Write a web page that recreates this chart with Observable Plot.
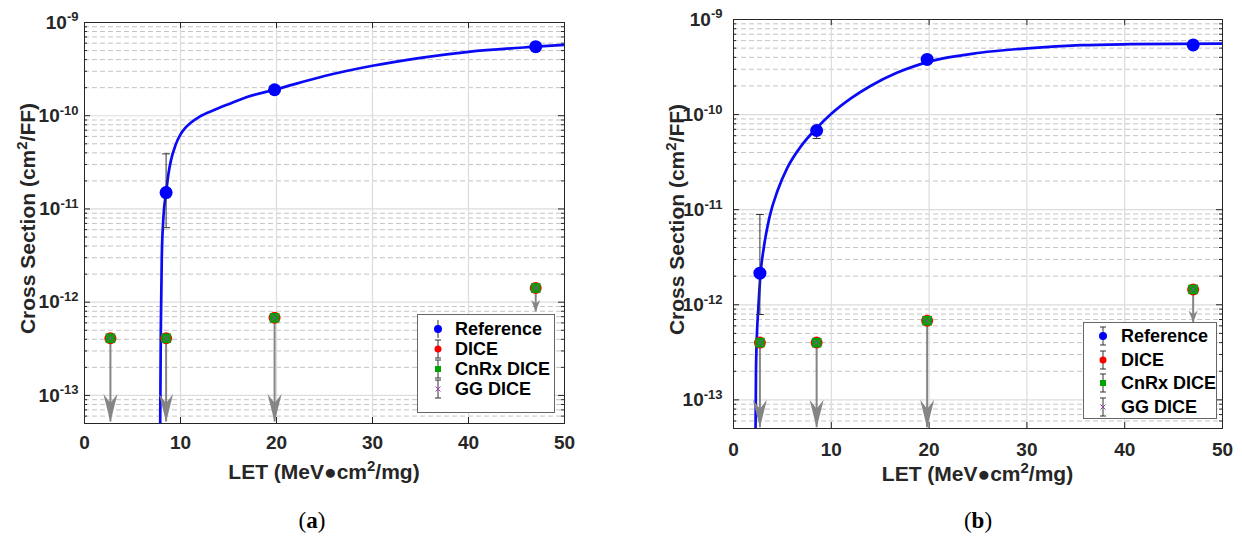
<!DOCTYPE html>
<html><head><meta charset="utf-8">
<script src="https://cdn.jsdelivr.net/npm/d3@7"></script>
<script src="https://cdn.jsdelivr.net/npm/@observablehq/plot@0.6"></script>
<style>
body{margin:0;background:#fff;width:1242px;height:543px;overflow:hidden;position:relative;font-family:"Liberation Sans",Arial,sans-serif;}
.panel{position:absolute;top:0;}
.legend{position:absolute;background:#fff;border:1px solid #666;box-sizing:border-box;}
.legend .row{position:absolute;left:0;right:0;height:22px;font-weight:bold;font-size:18px;color:#000;line-height:22px;}
.legend .row svg{position:absolute;top:0;}
.legend .row span{position:absolute;}
.sub{position:absolute;font-family:"Liberation Serif","DejaVu Serif",serif;font-size:23px;color:#000;transform:translateX(-50%);}
</style></head><body>
<div id="pa" class="panel" style="left:0"></div>
<div id="pb" class="panel" style="left:621px"></div>
<div class="sub" style="left:312px;top:508px">(<b>a</b>)</div>
<div class="sub" style="left:978px;top:508px">(<b>b</b>)</div>
<script>
// ---------- shared axes ----------
const xDomain = [0, 50];
const yDomain = [5e-14, 1e-9];
const xTickValues = [0, 10, 20, 30, 40, 50];
const xGridValues = [10, 20, 30, 40];
const yMajorTicks = [1e-13, 1e-12, 1e-11, 1e-10, 1e-9];
const yMinorMultipliers = [2, 3, 4, 5, 6, 7, 8, 9];
const yDecades = [1e-14, 1e-13, 1e-12, 1e-11, 1e-10];
const letPoints = [2.7, 8.5, 19.8, 47];
const xLabelText = ["LET (MeV\u25CFcm", "2", "/mg)"];
const yLabelText = ["Cross Section (cm", "2", "/FF)"];
const legendNames = ["Reference", "DICE", "CnRx DICE", "GG DICE"];

// ---------- panel (a) ----------
const aFitLet = [7.88, 7.95, 8.05, 8.2, 8.5, 8.75, 9.0, 9.5, 10, 10.5, 11, 12, 13.5, 15, 17, 19.8, 25, 30, 35, 40, 47, 50];
const aFitXs  = [4e-14, 5e-13, 3e-12, 7.5e-12, 1.5e-11, 2.4e-11, 3.3e-11, 4.9e-11, 6.3e-11, 7.4e-11, 8.3e-11, 9.8e-11, 1.15e-10, 1.33e-10, 1.6e-10, 1.9e-10, 2.67e-10, 3.44e-10, 4.18e-10, 4.85e-10, 5.5e-10, 5.75e-10];
const aRefLet = [8.5, 19.8, 47];
const aRefXs  = [1.5e-11, 1.9e-10, 5.5e-10];
const aErrLet = [8.5];
const aErrLo  = [6.3e-12];
const aErrHi  = [3.9e-11];
const aDice   = [4.1e-13, 4.1e-13, 6.8e-13, 1.42e-12];
const aCnrx   = [4.1e-13, 4.1e-13, 6.8e-13, 1.42e-12];
const aGg     = [4.1e-13, 4.1e-13, 6.8e-13, 1.42e-12];
const aArrowEnd = [5.2e-14, 5.2e-14, 5.2e-14, 7.9e-13];

// ---------- panel (b) ----------
const bFitLet = [2.25, 2.3, 2.4, 2.53, 2.76, 3.1, 3.7, 4.5, 5.5, 7, 8.5, 10, 12, 14, 16.7, 20.1, 25.2, 30.4, 35.5, 40.6, 50];
const bFitXs  = [4e-14, 2e-13, 5e-13, 8.9e-13, 2.1e-12, 4e-12, 8.5e-12, 1.58e-11, 2.75e-11, 4.8e-11, 7.2e-11, 1.02e-10, 1.48e-10, 2.0e-10, 2.75e-10, 3.63e-10, 4.47e-10, 5.01e-10, 5.37e-10, 5.5e-10, 5.58e-10];
const bRefLet = [2.7, 8.5, 19.8, 47];
const bRefXs  = [2.15e-12, 6.8e-11, 3.8e-10, 5.4e-10];
const bErrLet = [2.7, 8.5];
const bErrLo  = [7.9e-13, 5.6e-11];
const bErrHi  = [8.9e-12, 7.5e-11];
const bDice   = [4.0e-13, 4.0e-13, 6.8e-13, 1.45e-12];
const bCnrx   = [4.0e-13, 4.0e-13, 6.8e-13, 1.45e-12];
const bGg     = [4.0e-13, 4.0e-13, 6.8e-13, 1.45e-12];
const bArrowEnd = [5.1e-14, 5.1e-14, 5.1e-14, 6.5e-13];

// ---------- colours ----------
const C = {ref: "#0000ff", fit: "#0a0af5", dice: "#ff0000", cnrx: "#00a400", gg: "#a040b0", arrow: "#858585", err: "#333333", axis: "#262626"};

const capSymbol = {draw(ctx) { ctx.moveTo(-4, 0); ctx.lineTo(4, 0); }};
const bigHead = {draw(ctx) { ctx.moveTo(0, 0); ctx.lineTo(-7, -28); ctx.lineTo(0, -19); ctx.lineTo(7, -28); ctx.closePath(); }};
const smallHead = {draw(ctx) { ctx.moveTo(0, 0); ctx.lineTo(-4.5, -12); ctx.lineTo(0, -8); ctx.lineTo(4.5, -12); ctx.closePath(); }};

const yMinor = yDecades.flatMap(d => yMinorMultipliers.map(m => d * m)).filter(v => v >= yDomain[0] && v <= yDomain[1]);
const FONT = "'Liberation Sans', Arial, sans-serif";

function panel(cfg) {
  const {width, height, ml, mr, mt, mb, ypad, xpad} = cfg;
  const fw = width - ml - mr, fh = height - mt - mb;
  const fit = cfg.fitLet.map((x, i) => ({x, y: cfg.fitXs[i]}));
  const ref = cfg.refLet.map((x, i) => ({x, y: cfg.refXs[i]}));
  const err = cfg.errLet.map((x, i) => ({x, lo: cfg.errLo[i], hi: cfg.errHi[i]}));
  const pts = (arr) => letPoints.map((x, i) => ({x, y: arr[i]}));
  const arrows = letPoints.map((x, i) => ({x, from: cfg.dice[i], to: cfg.arrowEnd[i]}));
  const svg = Plot.plot({
    width, height, marginLeft: ml, marginRight: mr, marginTop: mt, marginBottom: mb,
    x: {domain: xDomain},
    y: {type: "log", domain: yDomain},
    style: {fontFamily: FONT, fontSize: "19px", fontWeight: "bold", color: C.axis, background: "transparent", overflow: "visible"},
    marks: [
      Plot.ruleY(yMinor, {stroke: "#c4c4c4", strokeDasharray: "5,3", strokeWidth: 1}),
      Plot.ruleY(yMajorTicks, {stroke: "#dcdcdc", strokeWidth: 1.2}),
      Plot.ruleX(xGridValues, {stroke: "#dcdcdc", strokeWidth: 1.2}),
      Plot.tickY(yMajorTicks, {stroke: C.axis, insetRight: fw - 6}),
      Plot.tickY(yMajorTicks, {stroke: C.axis, insetLeft: fw - 6}),
      Plot.tickY(yMinor, {stroke: C.axis, insetRight: fw - 3}),
      Plot.tickY(yMinor, {stroke: C.axis, insetLeft: fw - 3}),
      Plot.tickX(xGridValues, {stroke: C.axis, insetTop: fh - 6}),
      Plot.tickX(xGridValues, {stroke: C.axis, insetBottom: fh - 6}),
      Plot.axisY(yMajorTicks, {tickSize: 0, tickPadding: ypad, fontSize: 19, fontWeight: "bold", tickFormat: d => String(Math.round(Math.log10(d))), label: null}),
      Plot.axisX(xTickValues, {tickSize: 0, tickPadding: xpad, fontSize: 19, fontWeight: "bold", label: null}),
      Plot.line(fit, {x: "x", y: "y", stroke: C.fit, strokeWidth: 2.7, curve: "monotone-x", clip: true}),
      Plot.ruleX(err, {x: "x", y1: "lo", y2: "hi", stroke: C.err, strokeWidth: 1}),
      Plot.dot(err, {x: "x", y: "lo", symbol: capSymbol, stroke: C.err, fill: "none", strokeWidth: 1}),
      Plot.dot(err, {x: "x", y: "hi", symbol: capSymbol, stroke: C.err, fill: "none", strokeWidth: 1}),
      Plot.dot(ref, {x: "x", y: "y", r: 6.5, fill: C.ref, stroke: "none"}),
      Plot.ruleX(arrows, {x: "x", y1: "from", y2: "to", stroke: C.arrow, strokeWidth: 2}),
      Plot.dot(arrows, {filter: d => d.to < 1e-13, x: "x", y: "to", symbol: bigHead, fill: C.arrow, stroke: "none"}),
      Plot.dot(arrows, {filter: d => d.to >= 1e-13, x: "x", y: "to", symbol: smallHead, fill: C.arrow, stroke: "none"}),
      Plot.dot(pts(cfg.dice), {x: "x", y: "y", r: 6, fill: C.dice, stroke: "none"}),
      Plot.dot(pts(cfg.cnrx), {x: "x", y: "y", symbol: "square", r: 5.4, fill: C.cnrx, stroke: "none"}),
      Plot.dot(pts(cfg.gg), {x: "x", y: "y", symbol: "times", r: 3.2, stroke: C.gg, strokeWidth: 1}),
      Plot.frame({stroke: C.axis, strokeWidth: 1})
    ]
  });
  // superscript exponents on y tick labels
  svg.querySelectorAll('g[aria-label="y-axis tick label"] text').forEach(t => {
    const exp = t.textContent;
    t.textContent = "10";
    const ts = document.createElementNS("http://www.w3.org/2000/svg", "tspan");
    ts.setAttribute("dy", "-0.55em");
    ts.setAttribute("font-size", "13px");
    ts.textContent = exp;
    t.appendChild(ts);
  });
  const NS = "http://www.w3.org/2000/svg";
  function label(parts, x, y, rotate) {
    const t = document.createElementNS(NS, "text");
    t.setAttribute("text-anchor", "middle");
    t.setAttribute("font-family", FONT);
    t.setAttribute("font-size", "21px");
    t.setAttribute("font-weight", "bold");
    t.setAttribute("fill", "#262626");
    t.setAttribute("transform", `translate(${x},${y})` + (rotate ? " rotate(-90)" : ""));
    const a = document.createElementNS(NS, "tspan"); a.textContent = parts[0];
    const b = document.createElementNS(NS, "tspan"); b.textContent = parts[1]; b.setAttribute("dy", "-8"); b.setAttribute("font-size", "15px");
    const c = document.createElementNS(NS, "tspan"); c.textContent = parts[2]; c.setAttribute("dy", "8");
    t.append(a, b, c);
    svg.appendChild(t);
  }
  label(xLabelText, ml + fw / 2, cfg.xlabY, false);
  label(yLabelText, cfg.ylabX, mt + fh / 2 - 4, true);
  return svg;
}

document.getElementById("pa").appendChild(panel({
  width: 621, height: 490, ml: 84, mr: 57, mt: 22, mb: 67, ypad: 6, xpad: 12, xlabY: 479, ylabX: 35,
  fitLet: aFitLet, fitXs: aFitXs, refLet: aRefLet, refXs: aRefXs, errLet: aErrLet, errLo: aErrLo, errHi: aErrHi,
  dice: aDice, cnrx: aCnrx, gg: aGg, arrowEnd: aArrowEnd
}));
document.getElementById("pb").appendChild(panel({
  width: 621, height: 490, ml: 112, mr: 20, mt: 19, mb: 62, ypad: 11, xpad: 14, xlabY: 481, ylabX: 63,
  fitLet: bFitLet, fitXs: bFitXs, refLet: bRefLet, refXs: bRefXs, errLet: bErrLet, errLo: bErrLo, errHi: bErrHi,
  dice: bDice, cnrx: bCnrx, gg: bGg, arrowEnd: bArrowEnd
}));

// ---------- legends ----------
function legendSymbol(kind, caps) {
  const capLines = caps ? `<line x1="7" x2="13" y1="2" y2="2" stroke="${C.err}"/><line x1="7" x2="13" y1="20" y2="20" stroke="${C.err}"/>` : "";
  let m = "";
  if (kind === 0) m = `<circle cx="10" cy="11" r="4" fill="${C.ref}"/>`;
  if (kind === 1) m = `<circle cx="10" cy="11" r="3.5" fill="${C.dice}"/>`;
  if (kind === 2) m = `<rect x="7" y="8" width="6" height="6" fill="${C.cnrx}"/>`;
  if (kind === 3) m = `<path d="M7.5,8.5L12.5,13.5M12.5,8.5L7.5,13.5" stroke="${C.gg}" stroke-width="1"/>`;
  return `<svg width="20" height="22" viewBox="0 0 20 22"><line x1="10" x2="10" y1="2" y2="20" stroke="${C.err}" stroke-width="1"/>${capLines}${m}</svg>`;
}
function legend(left, top, w, h, rowTops, symX, textX, refCaps) {
  const div = document.createElement("div");
  div.className = "legend";
  Object.assign(div.style, {left: left + "px", top: top + "px", width: w + "px", height: h + "px"});
  legendNames.forEach((name, i) => {
    const row = document.createElement("div");
    row.className = "row";
    row.style.top = rowTops[i] + "px";
    row.innerHTML = `<span style="left:${symX - 10}px">${legendSymbol(i, i === 0 ? refCaps : true)}</span><span style="left:${textX}px">${name}</span>`;
    div.appendChild(row);
  });
  document.body.appendChild(div);
}
legend(417, 314, 138, 99, [3, 23, 43, 63], 20, 37, false);
legend(1083, 322, 134, 97, [2, 26, 49, 73], 19, 37, true);
</script>
</body></html>
